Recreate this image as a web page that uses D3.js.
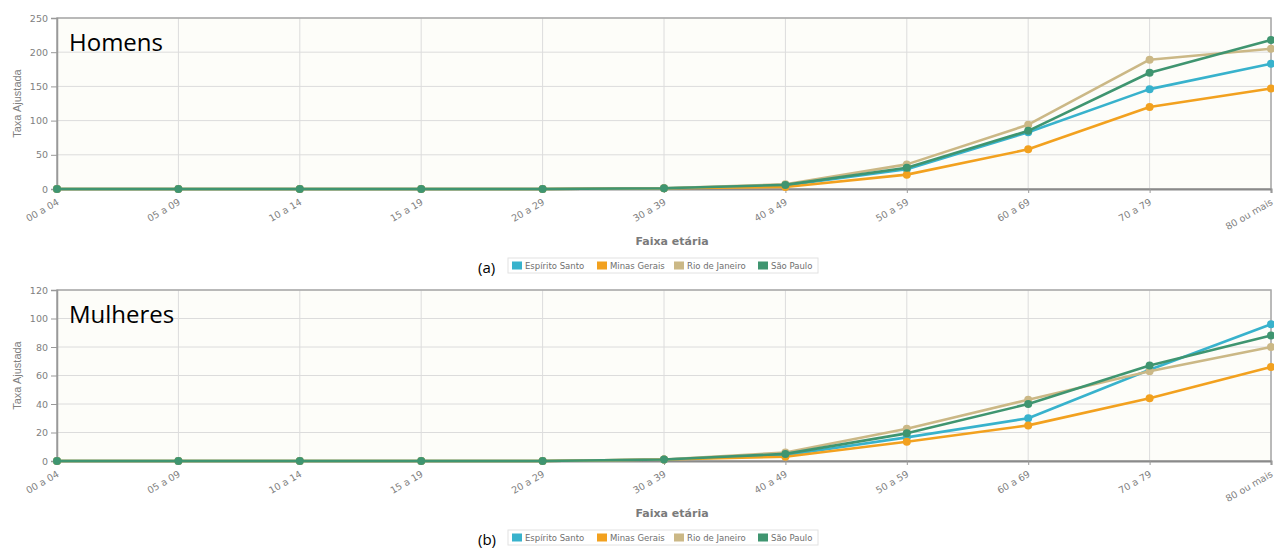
<!DOCTYPE html>
<html>
<head>
<meta charset="utf-8">
<script src="https://cdn.jsdelivr.net/npm/d3@7"></script>
<style>
  html, body { margin: 0; padding: 0; background: #fff; }
  svg { display: block; }
</style>
</head>
<body>
<svg id="chart" width="1274" height="548"></svg>
<script>
// Age groups (x axis)
const ageGroups = ["00 a 04", "05 a 09", "10 a 14", "15 a 19", "20 a 29", "30 a 39",
                   "40 a 49", "50 a 59", "60 a 69", "70 a 79", "80 ou mais"];

const states = ["Espírito Santo", "Minas Gerais", "Rio de Janeiro", "São Paulo"];
const stateColors = ["#38b2cc", "#f2a11f", "#cbb886", "#3f9570"];

// Adjusted rates, men
const menES = [0, 0, 0, 0, 0, 1, 5, 29, 83, 146, 183];
const menMG = [0, 0, 0, 0, 0, 1, 3, 21, 58, 120, 147];
const menRJ = [0, 0, 0, 0, 0, 1, 7, 36, 94, 189, 205];
const menSP = [0, 0, 0, 0, 0, 1, 6, 31, 85, 170, 218];

// Adjusted rates, women
const womenES = [0, 0, 0, 0, 0, 1, 4, 16.6, 30, 64, 96];
const womenMG = [0, 0, 0, 0, 0, 1, 3, 13.5, 25, 44, 66];
const womenRJ = [0, 0, 0, 0, 0, 1, 6, 22.7, 43, 63, 80];
const womenSP = [0, 0, 0, 0, 0, 1, 5, 19.4, 40, 67, 88];

const menTicks = [0, 50, 100, 150, 200, 250];
const womenTicks = [0, 20, 40, 60, 80, 100, 120];

const svg = d3.select("#chart");
const tickFont = "'DejaVu Sans', Verdana, sans-serif";

function drawPanel(opts) {
  const left = 57, right = 1271;
  const { top, bottom, yMax, ticks, series, title, tag } = opts;

  const x = d3.scalePoint().domain(ageGroups).range([left, right]).padding(0);
  const y = d3.scaleLinear().domain([0, yMax]).range([bottom, top]);

  const g = svg.append("g");

  // plot background
  g.append("rect")
    .attr("x", left).attr("y", top)
    .attr("width", right - left).attr("height", bottom - top)
    .attr("fill", "#fdfdf9");

  // horizontal grid
  g.append("g").selectAll("line").data(ticks).join("line")
    .attr("x1", left).attr("x2", right)
    .attr("y1", d => y(d)).attr("y2", d => y(d))
    .attr("stroke", "#dcdcdc").attr("stroke-width", 1);

  // vertical grid
  g.append("g").selectAll("line").data(ageGroups).join("line")
    .attr("x1", d => x(d)).attr("x2", d => x(d))
    .attr("y1", top).attr("y2", bottom)
    .attr("stroke", "#dcdcdc").attr("stroke-width", 1);

  // frame
  g.append("rect")
    .attr("x", left).attr("y", top)
    .attr("width", right - left).attr("height", bottom - top)
    .attr("fill", "none").attr("stroke", "#a8a8a8").attr("stroke-width", 1.5);

  // y axis
  const yAxis = d3.axisLeft(y).tickValues(ticks).tickSize(6).tickPadding(3);
  const ya = g.append("g").attr("transform", `translate(${left},0)`).call(yAxis);
  ya.select(".domain").attr("stroke", "#999").attr("stroke-width", 1.5);
  ya.selectAll(".tick line").attr("stroke", "#999");
  ya.selectAll(".tick text").attr("fill", "#808080")
    .style("font-family", tickFont).style("font-size", "9.5px");

  // x axis
  const xAxis = d3.axisBottom(x).tickSize(4).tickPadding(3);
  const xa = g.append("g").attr("transform", `translate(0,${bottom})`).call(xAxis);
  xa.select(".domain").attr("stroke", "#8a8a8a").attr("stroke-width", 2);
  xa.selectAll(".tick line").attr("stroke", "#999");
  xa.selectAll(".tick text")
    .attr("fill", "#808080")
    .style("font-family", tickFont).style("font-size", "9.5px")
    .attr("text-anchor", "end")
    .attr("dy", "0.35em")
    .attr("transform", "translate(-3,6) rotate(-30)");

  // axis titles
  g.append("text")
    .attr("x", (left + right) / 2 + 8).attr("y", bottom + 56)
    .attr("text-anchor", "middle")
    .attr("fill", "#7a7a7a")
    .style("font-family", tickFont).style("font-size", "11px").style("font-weight", "bold")
    .text("Faixa etária");

  g.append("text")
    .attr("transform", `translate(21,${(top + bottom) / 2}) rotate(-90)`)
    .attr("text-anchor", "middle")
    .attr("fill", "#808080")
    .style("font-family", "'Liberation Sans Narrow', 'Liberation Sans', sans-serif")
    .style("font-size", "11px")
    .text("Taxa Ajustada");

  // series lines and markers
  const line = d3.line().x((d, i) => x(ageGroups[i])).y(d => y(d));
  series.forEach((vals, si) => {
    g.append("path")
      .datum(vals)
      .attr("d", line)
      .attr("fill", "none")
      .attr("stroke", stateColors[si])
      .attr("stroke-width", 2.6)
      .attr("stroke-linejoin", "round");
    g.append("g").selectAll("circle").data(vals).join("circle")
      .attr("cx", (d, i) => x(ageGroups[i]))
      .attr("cy", d => y(d))
      .attr("r", 4)
      .attr("fill", stateColors[si]);
  });

  // panel title
  g.append("text")
    .attr("x", 69).attr("y", top + 33)
    .attr("fill", "#000")
    .style("font-family", "'Open Sans', 'Liberation Sans', sans-serif")
    .style("font-size", "24px")
    .text(title);

  // legend
  const legY = bottom + 69;
  const legX = 508;
  const lg = g.append("g");
  lg.append("rect")
    .attr("x", legX).attr("y", legY)
    .attr("width", 310).attr("height", 15)
    .attr("fill", "#fff").attr("stroke", "#e2e2e2");
  const entryX = [512, 597, 674, 758];
  states.forEach((s, i) => {
    lg.append("rect")
      .attr("x", entryX[i]).attr("y", legY + 3.5)
      .attr("width", 10).attr("height", 8)
      .attr("fill", stateColors[i]);
    lg.append("text")
      .attr("x", entryX[i] + 13).attr("y", legY + 11)
      .attr("fill", "#6f6f6f")
      .style("font-family", tickFont).style("font-size", "8.5px")
      .text(s);
  });

  // panel tag
  g.append("text")
    .attr("x", 478).attr("y", legY + 15)
    .attr("fill", "#000")
    .style("font-family", "'Open Sans', 'Liberation Sans', sans-serif")
    .style("font-size", "15px")
    .text(tag);
}

drawPanel({
  top: 18, bottom: 189, yMax: 250, ticks: menTicks,
  series: [menES, menMG, menRJ, menSP], title: "Homens", tag: "(a)"
});
drawPanel({
  top: 290, bottom: 461, yMax: 120, ticks: womenTicks,
  series: [womenES, womenMG, womenRJ, womenSP], title: "Mulheres", tag: "(b)"
});
</script>
</body>
</html>
